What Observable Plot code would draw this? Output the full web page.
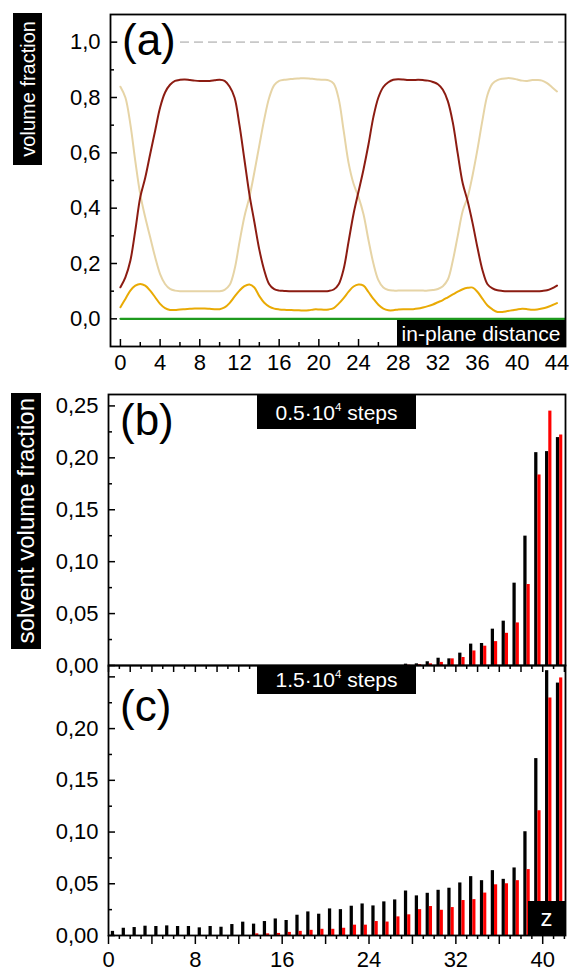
<!DOCTYPE html>
<html><head><meta charset="utf-8">
<script src="https://cdn.jsdelivr.net/npm/d3@7"></script>
<script src="https://cdn.jsdelivr.net/npm/@observablehq/plot@0.6"></script>
<style>
html,body{margin:0;padding:0;background:#fff;}
#wrap{position:relative;width:569px;height:972px;overflow:hidden;background:#fff;font-family:"Liberation Sans",Arial,sans-serif;}
.pl{position:absolute;left:0;}
.box{position:absolute;background:#000;color:#fff;display:flex;align-items:center;justify-content:center;white-space:nowrap;line-height:1;}
.vt{writing-mode:vertical-rl;transform:rotate(180deg);}
.big{position:absolute;font-size:44px;line-height:1;color:#000;white-space:nowrap;}
sup{font-size:0.55em;vertical-align:0.75em;line-height:0;}
</style></head><body><div id="wrap"></div>
<script>
// ---- panel (a): in-plane profiles ----
const distA = [0,0.5,1,1.5,2,2.5,3,3.5,4,4.5,5,5.5,6,6.5,7,7.5,8,8.5,9,9.5,10,10.5,11,11.5,12,12.5,13,13.5,14,14.5,15,15.5,16,16.5,17,17.5,18,18.5,19,19.5,20,20.5,21,21.5,22,22.5,23,23.5,24,24.5,25,25.5,26,26.5,27,27.5,28,28.5,29,29.5,30,30.5,31,31.5,32,32.5,33,33.5,34,34.5,35,35.5,36,36.5,37,37.5,38,38.5,39,39.5,40,40.5,41,41.5,42,42.5,43,43.5,44];
const darkRedA = [0.114,0.15,0.21,0.32,0.44,0.51,0.596,0.68,0.764,0.818,0.846,0.86,0.864,0.865,0.863,0.861,0.86,0.86,0.86,0.862,0.864,0.86,0.84,0.80,0.70,0.575,0.45,0.35,0.25,0.175,0.125,0.107,0.102,0.101,0.10,0.10,0.10,0.10,0.10,0.10,0.10,0.10,0.101,0.106,0.125,0.18,0.28,0.38,0.46,0.54,0.63,0.73,0.80,0.838,0.855,0.864,0.866,0.865,0.863,0.863,0.864,0.863,0.861,0.856,0.848,0.828,0.787,0.71,0.597,0.49,0.425,0.345,0.255,0.175,0.125,0.11,0.103,0.101,0.10,0.10,0.10,0.10,0.10,0.10,0.10,0.101,0.103,0.11,0.12];
const beigeA = [0.839,0.80,0.704,0.57,0.45,0.367,0.295,0.223,0.162,0.126,0.108,0.102,0.10,0.10,0.10,0.10,0.10,0.10,0.10,0.10,0.10,0.105,0.122,0.178,0.277,0.37,0.44,0.53,0.627,0.722,0.80,0.845,0.86,0.864,0.866,0.868,0.869,0.87,0.869,0.867,0.865,0.864,0.862,0.85,0.795,0.68,0.563,0.488,0.44,0.378,0.285,0.20,0.14,0.113,0.104,0.102,0.102,0.102,0.102,0.102,0.102,0.102,0.102,0.104,0.108,0.118,0.142,0.21,0.30,0.39,0.44,0.52,0.615,0.72,0.81,0.85,0.863,0.868,0.87,0.869,0.865,0.861,0.86,0.863,0.863,0.861,0.852,0.837,0.822];
const goldA = [0.042,0.072,0.102,0.12,0.126,0.12,0.102,0.078,0.054,0.0385,0.032,0.032,0.034,0.035,0.036,0.037,0.037,0.037,0.036,0.035,0.035,0.041,0.057,0.08,0.102,0.118,0.124,0.113,0.082,0.058,0.0445,0.037,0.034,0.0325,0.032,0.031,0.031,0.030,0.031,0.034,0.034,0.033,0.034,0.039,0.055,0.075,0.098,0.117,0.124,0.12,0.097,0.072,0.051,0.037,0.031,0.031,0.034,0.035,0.035,0.035,0.037,0.041,0.046,0.052,0.06,0.068,0.078,0.088,0.098,0.107,0.112,0.113,0.097,0.072,0.048,0.034,0.025,0.025,0.028,0.031,0.034,0.036,0.035,0.033,0.034,0.037,0.042,0.049,0.057];
const greenX = [0, 45];
const greenY = [0, 0];
const refLevel = [1.0];
const yMajorA = [0,0.2,0.4,0.6,0.8,1.0];
const yMinorA = [0.1,0.3,0.5,0.7,0.9];
const xMajorA = [0,4,8,12,16,20,24,28,32,36,40,44];
const xMinorA = [2,6,10,14,18,22,26,30,34,38,42];

// ---- panels (b) and (c): solvent volume fraction per layer z ----
const zLayer = [0,1,2,3,4,5,6,7,8,9,10,11,12,13,14,15,16,17,18,19,20,21,22,23,24,25,26,27,28,29,30,31,32,33,34,35,36,37,38,39,40,41];
const blackB = [0,0,0,0,0,0,0,0,0,0,0,0,0,0,0,0,0,0,0,0,0,0,0,0,0,0,0,0.0013,0.0016,0.0036,0.007,0.0064,0.0119,0.0206,0.0212,0.035,0.0427,0.0793,0.1246,0.205,0.206,0.2195];
const redB = [0,0,0,0,0,0,0,0,0,0,0,0,0,0,0,0,0,0,0,0,0,0,0,0,0,0,0,0.0003,0.0008,0.0016,0.003,0.0064,0.0077,0.014,0.0186,0.023,0.031,0.041,0.078,0.1835,0.245,0.222];
const blackC = [0.004,0.007,0.0077,0.009,0.0087,0.0093,0.0087,0.0087,0.0074,0.0087,0.008,0.0106,0.0129,0.011,0.0135,0.016,0.0145,0.0196,0.0228,0.0206,0.0257,0.025,0.0283,0.0305,0.0286,0.0325,0.0344,0.043,0.0383,0.0408,0.0437,0.0457,0.0508,0.0569,0.053,0.0627,0.0543,0.0653,0.1003,0.171,0.256,0.244];
const redC = [0,0,0,0,0,0,0,0,0,0,0,0,0,0.0016,0.0016,0.002,0.003,0.004,0.005,0.006,0.006,0.007,0.010,0.010,0.0135,0.013,0.018,0.020,0.025,0.028,0.0244,0.027,0.0338,0.0347,0.041,0.049,0.050,0.053,0.0637,0.1206,0.2296,0.249];
const yMajorBC = [0,0.05,0.10,0.15,0.20,0.25];
const yMajorCLabels = [0,0.05,0.10,0.15,0.20];
const yMinorBC = [0.025,0.075,0.125,0.175,0.225];
const xLabelsC = [0,8,16,24,32,40];
const xMajorC = [0,4,8,12,16,20,24,28,32,36,40];
const xMinorC = [1,2,3,5,6,7,9,10,11,13,14,15,17,18,19,21,22,23,25,26,27,29,30,31,33,34,35,37,38,39,41,42];
const xTopMajorC = [0,2,4,6,8,10,12,14,16,18,20,22,24,26,28,30,32,34,36,38,40,42];
const xTopMinorC = [1,3,5,7,9,11,13,15,17,19,21,23,25,27,29,31,33,35,37,39,41];

const COL = {darkRed:"#8c1c12", beige:"#e6d4a6", gold:"#e9aa04", green:"#1e9a1e", grey:"#c8c8c8"};
const FONT = '"Liberation Sans", Arial, sans-serif';
const comma = p => d => d.toFixed(p).replace(".", ",");
const wrap = document.getElementById("wrap");

function place(svg, top){ svg.classList.add("pl"); svg.style.top = top + "px"; wrap.appendChild(svg); }

const rowsA = distA.map((x,i)=>({x, r: darkRedA[i], b: beigeA[i], g: goldA[i]}));
const greenRows = greenX.map((x,i)=>({x, y: greenY[i]}));

const plotA = Plot.plot({
  width: 569, height: 372, marginLeft: 110, marginRight: 4, marginTop: 14, marginBottom: 26,
  x: {domain: [-1, 44.86], label: null}, y: {domain: [-0.1, 1.1], label: null},
  style: {fontFamily: FONT, fontSize: "22px", color: "#000", background: "transparent", overflow: "visible"},
  marks: [
    Plot.ruleY(refLevel, {stroke: COL.grey, strokeWidth: 1.6, strokeDasharray: "9,5"}),
    Plot.line(greenRows, {x: "x", y: "y", stroke: COL.green, strokeWidth: 2.2, clip: true}),
    Plot.line(rowsA, {x: "x", y: "b", stroke: COL.beige, strokeWidth: 2, curve: "catmull-rom"}),
    Plot.line(rowsA, {x: "x", y: "r", stroke: COL.darkRed, strokeWidth: 2, curve: "catmull-rom"}),
    Plot.line(rowsA, {x: "x", y: "g", stroke: COL.gold, strokeWidth: 2, curve: "catmull-rom"}),
    Plot.axisY(yMajorA, {anchor: "left", label: null, tickSize: -7, tickPadding: 17, tickFormat: comma(1), fontSize: 22, strokeWidth: 1.5}),
    Plot.axisY(yMinorA, {anchor: "left", label: null, tickSize: -4, tickFormat: () => "", strokeWidth: 1.5}),
    Plot.axisX(xMajorA, {anchor: "bottom", label: null, tickSize: -7, tickPadding: 15, tickFormat: d => String(d), fontSize: 22, strokeWidth: 1.5}),
    Plot.axisX(xMinorA, {anchor: "bottom", label: null, tickSize: -4, tickFormat: () => "", strokeWidth: 1.5}),
    Plot.frame({stroke: "#000", strokeWidth: 1.8})
  ]
});
place(plotA, 0);

function barPanel(black, red, opts){
  return Plot.plot({
    width: 569, height: opts.height, marginLeft: 108, marginRight: 4, marginTop: opts.mt, marginBottom: opts.mb,
    x: {domain: [0, 42.1], label: null, axis: opts.extra.length ? undefined : null}, y: {domain: [0, 0.261], label: null},
    style: {fontFamily: FONT, fontSize: "22px", color: "#000", background: "transparent", overflow: "visible"},
    marks: [
      Plot.rectY(zLayer, {x1: z => z + 0.26, x2: z => z + 0.56, y: z => black[z], fill: "#000", clip: true}),
      Plot.rectY(zLayer, {x1: z => z + 0.56, x2: z => z + 0.85, y: z => red[z], fill: "#ff0000", clip: true}),
      Plot.axisY(opts.yLabels, {anchor: "left", label: null, tickSize: -7, tickPadding: 17, tickFormat: comma(2), fontSize: 22, strokeWidth: 1.5}),
      Plot.axisY(yMinorBC, {anchor: "left", label: null, tickSize: -4, tickFormat: () => "", strokeWidth: 1.5}),
      ...opts.extra,
      Plot.frame({stroke: "#000", strokeWidth: 1.8})
    ]
  });
}

const plotB = barPanel(blackB, redB, {height: 286, mt: 14, mb: 1, yLabels: yMajorBC, extra: []});
place(plotB, 380);

const plotC = barPanel(blackC, redC, {height: 308, mt: 1, mb: 37, yLabels: yMajorCLabels, extra: [
  Plot.axisY([0.25], {anchor: "left", label: null, tickSize: -7, tickFormat: () => "", strokeWidth: 1.5}),
  Plot.axisX(xMajorC, {anchor: "bottom", label: null, tickSize: 9, tickFormat: () => "", strokeWidth: 1.5}),
  Plot.axisX(xMinorC, {anchor: "bottom", label: null, tickSize: 4, tickFormat: () => "", strokeWidth: 1.5}),
  Plot.axisX(xLabelsC, {anchor: "bottom", label: null, tickSize: 0, tickPadding: 16, tickFormat: d => String(d), fontSize: 22}),
  Plot.axisX(xTopMajorC, {anchor: "top", label: null, tickSize: -6, tickFormat: () => "", strokeWidth: 1.5}),
  Plot.axisX(xTopMinorC, {anchor: "top", label: null, tickSize: -3, tickFormat: () => "", strokeWidth: 1.5})
]});
place(plotC, 664);

// ---- text overlays ----
function add(html, cls, css){ const d = document.createElement("div"); d.className = cls; d.innerHTML = html; Object.assign(d.style, css); wrap.appendChild(d); return d; }
add('<span class="vt">volume fraction</span>', "box", {left:"13px", top:"13px", width:"29px", height:"152px", fontSize:"20px"});
add('<span class="vt">solvent volume fraction</span>', "box", {left:"11px", top:"393px", width:"30px", height:"256px", fontSize:"24px"});
add('<span>in-plane distance</span>', "box", {left:"397px", top:"320px", width:"168px", height:"26px", fontSize:"21px"});
add('<span>0.5·10<sup>4</sup> steps</span>', "box", {left:"257px", top:"395px", width:"159px", height:"34px", fontSize:"21px"});
add('<span>1.5·10<sup>4</sup> steps</span>', "box", {left:"257px", top:"665px", width:"159px", height:"29px", fontSize:"21px"});
add('<span>z</span>', "box", {left:"528px", top:"901px", width:"37px", height:"34px", fontSize:"24px"});
add('(a)', "big", {left:"118px", top:"18px", paddingLeft:"4px", paddingRight:"2px", background:"#fff"});
add('(b)', "big", {left:"120px", top:"398px"});
add('(c)', "big", {left:"120px", top:"684px"});
</script></body></html>
